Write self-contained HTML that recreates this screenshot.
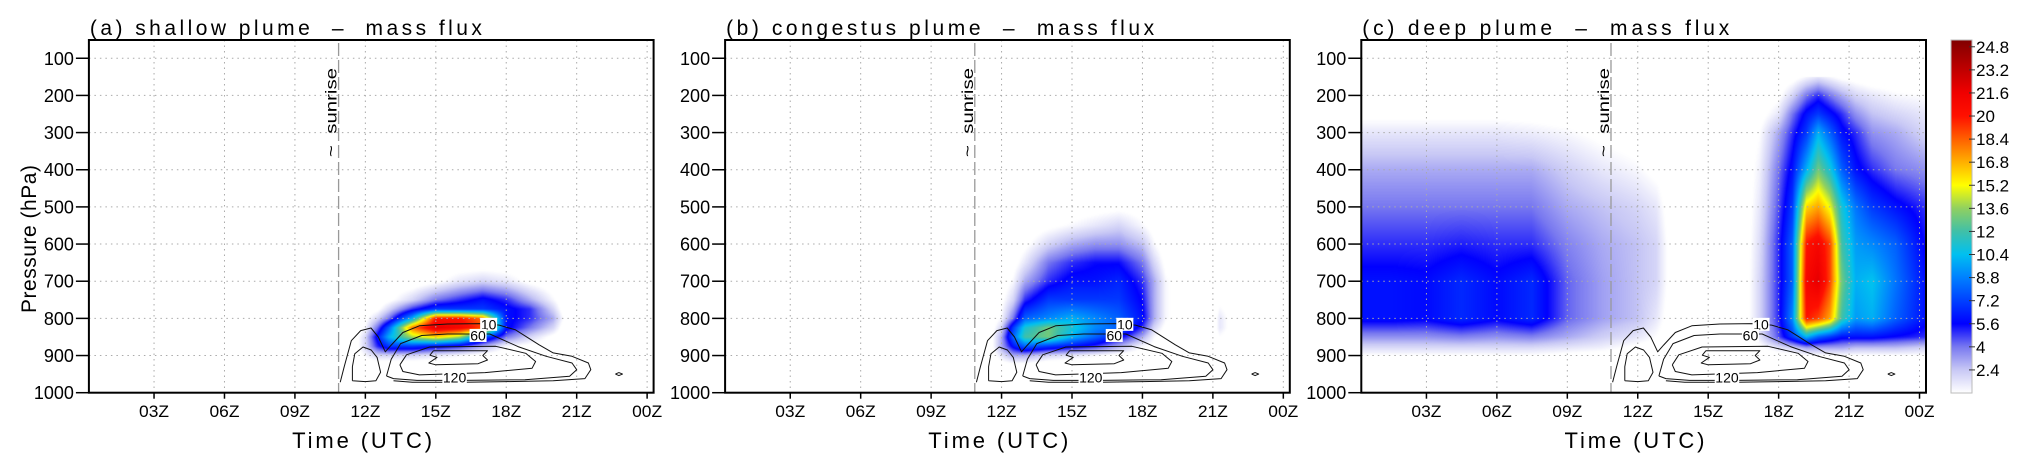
<!DOCTYPE html>
<html><head><meta charset="utf-8">
<style>
html,body{margin:0;padding:0;background:#fff;}
body{width:2028px;height:470px;position:relative;overflow:hidden;font-family:"Liberation Sans",sans-serif;}
canvas{position:absolute;}
#svg{position:absolute;left:0;top:0;}
text{font-family:"Liberation Sans",sans-serif;fill:#000;}
</style></head>
<body>
<div id="canvases"></div>
<svg id="svg" width="2028" height="470"></svg>
<script>
// ---------------- DATA ----------------
const PANEL_TITLES = ['(a) shallow plume  \u2013  mass flux','(b) congestus plume  \u2013  mass flux','(c) deep plume  \u2013  mass flux'];
const TIME_TICKS = [3,6,9,12,15,18,21,24];
const TIME_LABELS = ['03Z','06Z','09Z','12Z','15Z','18Z','21Z','00Z'];
const P_TICKS = [100,200,300,400,500,600,700,800,900,1000];
const P_LABELS = ['100','200','300','400','500','600','700','800','900','1000'];
const CB_LABELS = [24.8,23.2,21.6,20,18.4,16.8,15.2,13.6,12,10.4,8.8,7.2,5.6,4,2.4];
const SUNRISE_HOUR = 10.86;

// panel (a) shallow plume grid: rows = pressure, cols = hour
const HOURS_A = [11.5,12,12.5,13,14,15,16,17,18,19,20,20.5];
const PRES_A = [650,700,750,775,800,825,850,875,900,925];
const VALS_A = [
 [0,0,0,0,0,0,0,0,0,0,0,0],
 [0,0,0,0,0,0.5,1.5,2,1.5,0.5,0,0],
 [0,0,0,0.5,2,4,5,6,5,3,1,0],
 [0,0,0.5,2,5,7,7,7,6,5,2,0],
 [0,0.5,2,4,10,20,20,18,6,5,3,0.5],
 [0,1,4,8,18,22,21,19,6,4,2,0],
 [0,2,6,10,14,16,14,8,4,2,0.5,0],
 [0,2,5,7,7,6,5,3,1,0.5,0,0],
 [0,1,2,2,2,1.5,1,0.5,0,0,0,0],
 [0,0,0,0,0,0,0,0,0,0,0,0]
];

// panel (b) congestus plume grid
const HOURS_B = [11.5,12,12.5,13,14,15,16,17,18,18.5,19,20,21,21.3,22];
const PRES_B = [450,500,550,600,650,700,750,800,825,850,875,900,925];
const VALS_B = [
 [0,0,0,0,0,0,0,0,0,0,0,0,0,0,0],
 [0,0,0,0,0,0,0.3,0.5,0.3,0,0,0,0,0,0],
 [0,0,0,0,0.5,1,1.5,2,1,0.3,0,0,0,0,0],
 [0,0,0,0.5,2,3,3.5,3.5,2.5,1,0,0,0,0,0],
 [0,0,0.3,1.5,4,5,5.5,5.5,4,2,0.5,0,0,0,0],
 [0,0,1,3,5,6,6,6.5,5,3,1,0,0,0,0],
 [0,0.5,2,5,7,7,7,7,5.5,3,1,0,0,0.5,0],
 [0,1,4,8,9,10,9,8,6,3,1,0,0,1.5,0],
 [0,2,7,11,13,11,9,8,5,2,0.5,0,0,1.5,0],
 [0,3,8,12,13,10,8,6,3,1,0,0,0,0.8,0],
 [0,3,6,8,7,6,5,3,1,0.5,0,0,0,0,0],
 [0,1.5,3,3,2,1.5,1,0.5,0,0,0,0,0,0,0],
 [0,0.3,0.5,0.5,0,0,0,0,0,0,0,0,0,0,0]
];

// panel (c) deep plume grid: one array per hour (values by pressure level)
const HOURS_C = [0.25,1.5,3,4.5,6,7.5,9,10.5,12,12.8,13.5,16.5,17.2,18,18.6,19.2,19.7,20.2,20.7,21.3,22,23,24.25];
const PRES_C = [150,200,250,300,400,500,600,700,800,850,880,900,925];
const COLS_C = [
 [0,0,0.5,1.5,3,4,5,6,6,3.5,1.8,0.8,0],
 [0,0,0.5,1.5,3,4,5,6,6,3.5,1.8,0.8,0],
 [0,0,0.5,1.5,3,4,5,5.8,5.8,3.5,1.8,0.8,0],
 [0,0,0.5,1.5,3,4,5.2,6.6,6.6,3.8,1.8,0.8,0],
 [0,0,0.5,1.5,3,4,5,5.8,5.8,3.5,1.8,0.8,0],
 [0,0,0.4,1.3,3,4,5,6.6,6.6,3.8,1.8,0.8,0],
 [0,0,0.2,1,2.2,3,3.8,4.3,4.3,3,1.5,0.5,0],
 [0,0,0,0.5,1.5,2.5,3,3.2,3.2,2.2,1.2,0.3,0],
 [0,0,0,0.2,1,2,2.5,2.5,2.5,1.5,0.5,0,0],
 [0,0,0,0,0.5,1.5,2,2,1.5,0.8,0.2,0,0],
 [0,0,0,0,0,0,0.2,0.2,0,0,0,0,0],
 [0,0,0,0,0,0,0,0,0,0,0,0,0],
 [0,0,0.3,0.8,1.2,1.5,1.8,2,2,1.5,0.5,0,0],
 [0,0.5,1.5,3,4,4.5,5,5,5,4.5,1.5,0.3,0],
 [0.3,2,4,5,6,7,8,8,9,7,2,0.5,0],
 [1,4,6,7,10,16,20,21,20,10,3,0.8,0],
 [1.5,5,7,10,13,17,21,22,19,8,3,0.8,0],
 [1,4,6,8,11,15,19,19,17,7,3,0.8,0],
 [0.5,3,5,6,8,11,12,13,12,6,3,0.8,0],
 [0.3,2,3.5,5,6,8.5,9.5,10,9.5,6,2.5,0.8,0],
 [0,1.5,2.5,3.5,5,7,9,10.5,10,6,2.5,0.8,0],
 [0,1,2,3,4,6,8,8.5,8,5.5,2.5,0.8,0],
 [0,0.8,1.5,2,3.5,5,5.5,6,6,5,2,0.8,0]
];

// contour lines (hour, hPa) – identical in each panel
const C10 = [[10.93,972],[11.1,930],[11.4,860],[11.8,833],[12.24,826],[12.55,850],[12.85,890],[13.1,872],[13.6,838],[14.3,820],[15.5,815],[16.9,814],[17.7,818],[18.4,831],[19.4,871],[20.0,893],[20.8,902],[21.5,920],[21.6,938],[21.35,962],[20,968],[18,970],[16.2,972],[14,972],[13.2,968]];
const C60_LEFT = [[11.45,968],[11.45,930],[11.55,895],[11.9,877],[12.25,885],[12.5,905],[12.65,945],[12.45,968],[12.0,970],[11.45,968]];
const C60_MAIN = [[12.9,955],[13.1,910],[13.5,868],[14.4,846],[15.5,842],[17.3,842],[18.5,876],[19.7,902],[20.8,920],[21.0,938],[20.7,956],[18.8,965],[16.2,967],[14.2,967],[13.2,962],[12.9,955]];
const C120 = [[13.47,925],[13.75,898],[14.74,877],[17.55,875],[18.83,894],[19.25,916],[19.1,934],[17.1,946],[14.3,952],[13.6,943],[13.47,925]];
const C180 = [[14.9,887],[17.2,887],[17.0,900],[17.2,912],[16.8,922],[15.0,925],[14.7,920],[15.05,905],[14.75,899],[14.9,887]];
const C_SMALL = [[22.65,950],[22.8,946],[22.95,950],[22.8,954],[22.65,950]];
const CONTOUR_LABELS = ['10','60','120'];
const CONTOUR_LABEL_POS = [[17.25,816],[16.8,846],[15.8,959]];

// colour map (value -> colour)
const CMAP_VALUES = [0.8,2.4,4.0,5.6,7.2,8.8,10.4,12,13.6,15.2,16.8,18.4,20,21.6,23.2,24.8,25.6];
const CMAP_COLORS = ['#ffffff','#c8c8f5','#7878f0','#0000ff','#0040ff','#0080ff','#00c0f0','#40c0a8','#90d060','#ffff00','#ffb000','#ff6000','#ff1000','#f00000','#c00000','#900000','#800000'];

// ---------------- GEOMETRY ----------------
const PANEL_H0 = [83.6, 719.8, 1356];
const HSCALE = 23.48;
const TOP = 40, BOTTOM = 392.7, PSCALE = 0.3716;
function xOf(i,h){ return PANEL_H0[i] + h*HSCALE; }
function yOf(p){ return BOTTOM - (1000-p)*PSCALE; }
function leftOf(i){ return PANEL_H0[i]+5.3; }
function rightOf(i){ return PANEL_H0[i]+570; }

// ---------------- HELPERS ----------------
function hex(c){ return [parseInt(c.substr(1,2),16),parseInt(c.substr(3,2),16),parseInt(c.substr(5,2),16)]; }
const CMAP_RGB = CMAP_COLORS.map(hex);
function colorOf(v){
  if (v <= CMAP_VALUES[0]) return [255,255,255];
  const n = CMAP_VALUES.length;
  if (v >= CMAP_VALUES[n-1]) return CMAP_RGB[n-1];
  for (let k=0;k<n-1;k++){
    if (v <= CMAP_VALUES[k+1]){
      const t=(v-CMAP_VALUES[k])/(CMAP_VALUES[k+1]-CMAP_VALUES[k]);
      const a=CMAP_RGB[k], b=CMAP_RGB[k+1];
      return [a[0]+(b[0]-a[0])*t, a[1]+(b[1]-a[1])*t, a[2]+(b[2]-a[2])*t];
    }
  }
}
function locate(arr, x){
  for (let k=0;k<arr.length-1;k++){ if (x<=arr[k+1]) return [k,(x-arr[k])/(arr[k+1]-arr[k])]; }
  return [arr.length-2,1];
}
function sample(H,P,V,h,p){
  if (h < H[0]) h = H[0];
  if (h > H[H.length-1]) h = H[H.length-1];
  if (p < P[0] || p > P[P.length-1]) return 0;
  const [i,fx]=locate(H,h), [j,fy]=locate(P,p);
  const a=V[j][i], b=V[j][i+1], c=V[j+1][i], d=V[j+1][i+1];
  return (a*(1-fx)+b*fx)*(1-fy) + (c*(1-fx)+d*fx)*fy;
}
const VALS_C = PRES_C.map((_,j)=>COLS_C.map(col=>col[j]));
const FIELDS = [[HOURS_A,PRES_A,VALS_A],[HOURS_B,PRES_B,VALS_B],[HOURS_C,PRES_C,VALS_C]];

// ---------------- HEATMAPS ----------------
const holder = document.getElementById('canvases');
for (let i=0;i<3;i++){
  const L=leftOf(i), R=rightOf(i);
  const w=Math.round(R-L), hgt=Math.round(BOTTOM-TOP);
  const cv=document.createElement('canvas');
  
  
  cv.width=w; cv.height=hgt;
  cv.style.left=L+'px'; cv.style.top=TOP+'px';
  const ctx=cv.getContext('2d');
  const img=ctx.createImageData(w,hgt);
  const [H,P,V]=FIELDS[i];
  for (let py=0;py<hgt;py++){
    const p = 1000-(BOTTOM-(TOP+py+0.5))/PSCALE;
    for (let px=0;px<w;px++){
      const h=(L+px+0.5-PANEL_H0[i])/HSCALE;
      const col=colorOf(sample(H,P,V,h,p));
      const o=(py*w+px)*4;
      img.data[o]=col[0]; img.data[o+1]=col[1]; img.data[o+2]=col[2]; img.data[o+3]=255;
    }
  }
  ctx.putImageData(img,0,0);
  holder.appendChild(cv);
}

// ---------------- SVG OVERLAY ----------------
const NS='http://www.w3.org/2000/svg';
const svg=document.getElementById('svg');
function el(tag, parent){ const e=document.createElementNS(NS,tag); parent.appendChild(e); return e; }

for (let i=0;i<3;i++){
  const L=leftOf(i), R=rightOf(i);
  const g=el('g',svg);
  
  

  TIME_TICKS.forEach(t=>{
    const ln=el('line',g);
    
    
    ln.setAttribute('x1',xOf(i,t)); ln.setAttribute('x2',xOf(i,t));
    ln.setAttribute('y1',TOP); ln.setAttribute('y2',BOTTOM);
    ln.setAttribute('stroke','#aaa'); ln.setAttribute('stroke-width','1'); ln.setAttribute('stroke-dasharray','1.5,4');
  });
  P_TICKS.forEach(p=>{
    if (p>=1000) return;
    const ln=el('line',g);
    
    
    ln.setAttribute('x1',L); ln.setAttribute('x2',R);
    ln.setAttribute('y1',yOf(p)); ln.setAttribute('y2',yOf(p));
    ln.setAttribute('stroke','#aaa'); ln.setAttribute('stroke-width','1'); ln.setAttribute('stroke-dasharray','1.5,4');
  });

  const sx=xOf(i,SUNRISE_HOUR);
  const sl=el('line',g);
  
  
  sl.setAttribute('x1',sx); sl.setAttribute('x2',sx); sl.setAttribute('y1',43); sl.setAttribute('y2',BOTTOM);
  sl.setAttribute('stroke','#999'); sl.setAttribute('stroke-width','1.3'); sl.setAttribute('stroke-dasharray','13,4');
  const st=el('text',g);
  
  
  st.setAttribute('transform','translate('+(sx-2)+',157) rotate(-90)');
  st.setAttribute('font-size','16'); st.setAttribute('textLength','89'); st.setAttribute('lengthAdjust','spacingAndGlyphs');
  st.setAttribute('style','white-space:pre');
  st.textContent='~  sunrise';

  [C10,C60_LEFT,C60_MAIN,C120,C180,C_SMALL].forEach(c=>{
    const pl=el('polyline',g);
    
    
    pl.setAttribute('points', c.map(q=>xOf(i,q[0]).toFixed(1)+','+yOf(q[1]).toFixed(1)).join(' '));
    pl.setAttribute('fill','none'); pl.setAttribute('stroke','#111'); pl.setAttribute('stroke-width','1'); pl.setAttribute('stroke-linejoin','round');
  });
  CONTOUR_LABELS.forEach((lab,k)=>{
    const cx=xOf(i,CONTOUR_LABEL_POS[k][0]), cy=yOf(CONTOUR_LABEL_POS[k][1]);
    const w=lab.length*7.5+2;
    const r=el('rect',g);
    
    
    r.setAttribute('x',cx-w/2); r.setAttribute('y',cy-6.5); r.setAttribute('width',w); r.setAttribute('height',13); r.setAttribute('fill','#fff');
    const t=el('text',g);
    
    
    t.setAttribute('x',cx); t.setAttribute('y',cy+5); t.setAttribute('text-anchor','middle'); t.setAttribute('font-size','14'); t.setAttribute('fill','#333');
    t.textContent=lab;
  });

  const fr=el('rect',g);
  
  
  fr.setAttribute('x',L); fr.setAttribute('y',TOP); fr.setAttribute('width',R-L); fr.setAttribute('height',BOTTOM-TOP);
  fr.setAttribute('fill','none'); fr.setAttribute('stroke','#000'); fr.setAttribute('stroke-width','2');

  TIME_TICKS.forEach((t,k)=>{
    const x=xOf(i,t);
    const tk=el('line',g);
    
    
    tk.setAttribute('x1',x); tk.setAttribute('x2',x); tk.setAttribute('y1',BOTTOM); tk.setAttribute('y2',BOTTOM+6);
    tk.setAttribute('stroke','#000'); tk.setAttribute('stroke-width','1.5');
    const tx=el('text',g);
    
    
    tx.setAttribute('x',x); tx.setAttribute('y',417); tx.setAttribute('text-anchor','middle'); tx.setAttribute('font-size','17');
    tx.setAttribute('textLength','30'); tx.setAttribute('lengthAdjust','spacingAndGlyphs');
    tx.textContent=TIME_LABELS[k];
  });
  P_TICKS.forEach((p,k)=>{
    const y=yOf(p);
    const tk=el('line',g);
    
    
    tk.setAttribute('x1',L-13); tk.setAttribute('x2',L); tk.setAttribute('y1',y); tk.setAttribute('y2',y);
    tk.setAttribute('stroke','#000'); tk.setAttribute('stroke-width','1.5');
    const tx=el('text',g);
    
    
    tx.setAttribute('x',L-15); tx.setAttribute('y',y+6.5); tx.setAttribute('text-anchor','end'); tx.setAttribute('font-size','18');
    tx.textContent=P_LABELS[k];
  });

  const tl=el('text',g);
  
  
  tl.setAttribute('x',L+1); tl.setAttribute('y',35); tl.setAttribute('font-size','21');
  tl.setAttribute('textLength',[392,428,367][i]); tl.setAttribute('lengthAdjust','spacing');
  tl.setAttribute('style','white-space:pre');
  tl.textContent=PANEL_TITLES[i];

  const xt=el('text',g);
  
  
  xt.setAttribute('x',PANEL_H0[i]+278.5); xt.setAttribute('y',448); xt.setAttribute('text-anchor','middle'); xt.setAttribute('font-size','22');
  xt.setAttribute('textLength','140'); xt.setAttribute('lengthAdjust','spacing');
  xt.textContent='Time (UTC)';
}

const yt=el('text',svg);


yt.setAttribute('transform','translate(36,239) rotate(-90)');
yt.setAttribute('text-anchor','middle'); yt.setAttribute('font-size','21');
yt.setAttribute('textLength','148'); yt.setAttribute('lengthAdjust','spacing');
yt.textContent='Pressure (hPa)';

// ---------------- COLORBAR ----------------
const CB_X=1951, CB_W=21, CB_TOP=40, CB_BOT=393;
const CB_VMIN=0.8, CB_VMAX=25.27;
function cbY(v){ return CB_BOT - (v-CB_VMIN)/(CB_VMAX-CB_VMIN)*(CB_BOT-CB_TOP); }
const defs=el('defs',svg);
const grad=el('linearGradient',defs);
grad.setAttribute('id','cbgrad'); grad.setAttribute('x1','0'); grad.setAttribute('y1','1'); grad.setAttribute('x2','0'); grad.setAttribute('y2','0');
CMAP_VALUES.forEach((v,k)=>{
  const s=el('stop',grad);
  s.setAttribute('offset', Math.min(1,(v-CB_VMIN)/(CB_VMAX-CB_VMIN)));
  s.setAttribute('stop-color', CMAP_COLORS[k]);
});
const cbg=el('g',svg);


const cbr=el('rect',cbg);


cbr.setAttribute('x',CB_X); cbr.setAttribute('y',CB_TOP); cbr.setAttribute('width',CB_W); cbr.setAttribute('height',CB_BOT-CB_TOP);
cbr.setAttribute('fill','url(#cbgrad)'); cbr.setAttribute('stroke','#bbb'); cbr.setAttribute('stroke-width','1');
CB_LABELS.forEach(v=>{
  const y=cbY(v);
  const tk=el('line',cbg);
  
  
  tk.setAttribute('x1',CB_X+CB_W-3); tk.setAttribute('x2',CB_X+CB_W+3); tk.setAttribute('y1',y); tk.setAttribute('y2',y);
  tk.setAttribute('stroke','#333'); tk.setAttribute('stroke-width','1');
  const tx=el('text',cbg);
  
  
  tx.setAttribute('x',CB_X+CB_W+4); tx.setAttribute('y',y+6); tx.setAttribute('font-size','17');
  tx.textContent=String(v);
});
</script>
</body></html>
